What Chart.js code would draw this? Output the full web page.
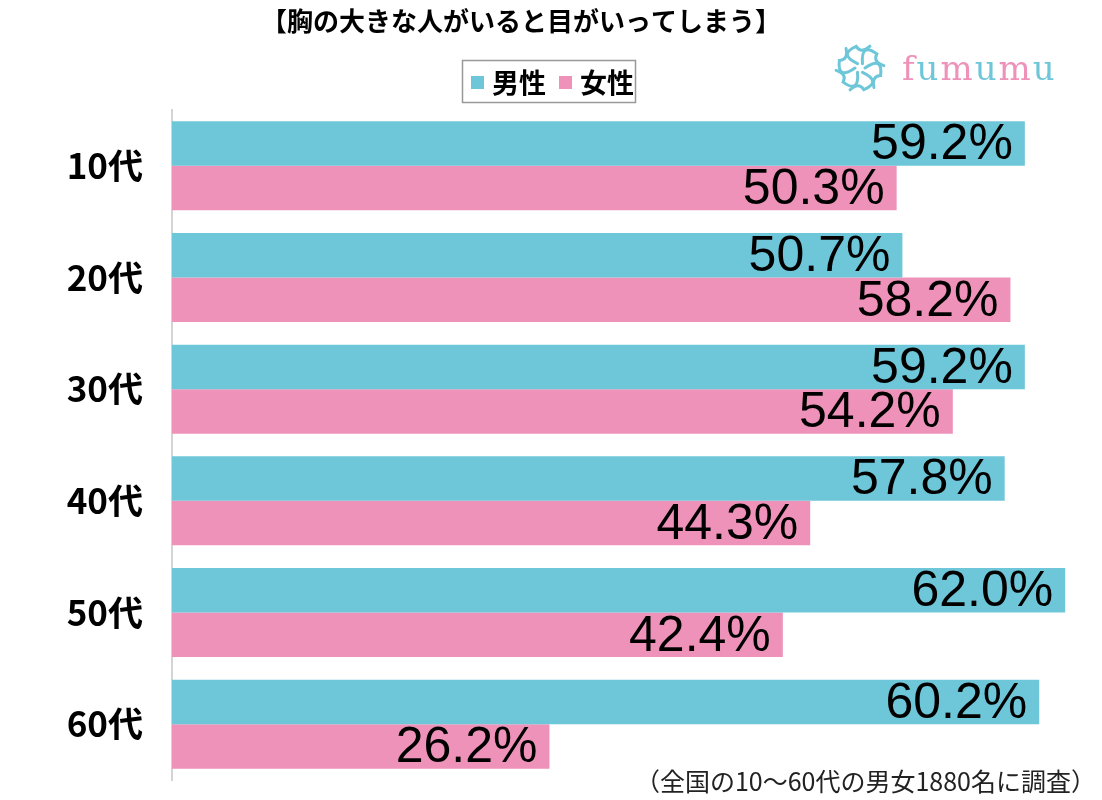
<!DOCTYPE html>
<html>
<head>
<meta charset="utf-8">
<script src="https://cdn.jsdelivr.net/npm/chart.js@4"></script>
<style>
  html, body { margin: 0; padding: 0; background: #fff; }
  #chart { display: block; }
</style>
</head>
<body>
<canvas id="chart" width="1102" height="800"></canvas>
<script>
// data
const ages = ['10代', '20代', '30代', '40代', '50代', '60代'];
const male = [59.2, 50.7, 59.2, 57.8, 62.0, 60.2];
const female = [50.3, 58.2, 54.2, 44.3, 42.4, 26.2];

const title = '【胸の大きな人がいると目がいってしまう】';
const note = '（全国の10〜60代の男女1880名に調査）';

const blue = '#6ec6d9';
const pink = '#ee92b9';
const jp = '"Noto Sans CJK JP", "Noto Sans", sans-serif';

// value labels inside the bar ends
const valueLabels = {
   id: 'valueLabels',
   afterDatasetsDraw(chart) {
      const ctx = chart.ctx;
      ctx.save();
      ctx.font = '50px "Liberation Sans", Arial, sans-serif';
      ctx.fillStyle = '#000';
      ctx.textAlign = 'right';
      ctx.textBaseline = 'middle';
      chart.data.datasets.forEach((ds, i) => {
         chart.getDatasetMeta(i).data.forEach((bar, j) => {
            ctx.fillText(ds.data[j].toFixed(1) + '%', bar.x - 12, bar.y + 2);
         });
      });
      ctx.restore();
   }
};

// title, legend box, note and logo
const decorations = {
   id: 'decorations',
   afterDraw(chart) {
      const ctx = chart.ctx;
      ctx.save();
      ctx.fillStyle = '#000';
      ctx.textBaseline = 'middle';

      ctx.font = 'bold 26px ' + jp;
      ctx.textAlign = 'center';
      ctx.fillText(title, 521, 21);

      // legend
      ctx.strokeStyle = '#999';
      ctx.lineWidth = 1.5;
      ctx.strokeRect(462.5, 60.5, 173, 42);
      ctx.font = 'bold 27px ' + jp;
      ctx.textAlign = 'left';
      let x = 471;
      chart.data.datasets.forEach(ds => {
         ctx.fillStyle = ds.backgroundColor;
         ctx.fillRect(x, 76, 13, 13);
         ctx.fillStyle = '#000';
         ctx.fillText(ds.label, x + 21, 83);
         x += 88;
      });

      // note
      ctx.font = '25px ' + jp;
      ctx.textAlign = 'right';
      ctx.fillStyle = '#222';
      ctx.fillText(note, 1096, 781);

      // logo flower
      const cx = 860, cy = 68;
      ctx.strokeStyle = blue;
      ctx.lineWidth = 3;
      ctx.lineCap = 'round';
      for (let k = 0; k < 6; k++) {
         const a = k * Math.PI / 3;
         ctx.beginPath();
         ctx.moveTo(cx + 5 * Math.cos(a), cy + 5 * Math.sin(a));
         ctx.quadraticCurveTo(
            cx + 26 * Math.cos(a - 0.5), cy + 26 * Math.sin(a - 0.5),
            cx + 22 * Math.cos(a + 0.35), cy + 22 * Math.sin(a + 0.35));
         ctx.quadraticCurveTo(
            cx + 14 * Math.cos(a + 0.6), cy + 14 * Math.sin(a + 0.6),
            cx + 24 * Math.cos(a + 0.95), cy + 24 * Math.sin(a + 0.95));
         ctx.stroke();
      }
      // logo text
      ctx.font = '34px "DejaVu Serif", "Liberation Serif", serif';
      ctx.textAlign = 'left';
      ctx.textBaseline = 'alphabetic';
      let lx = 902;
      'fumumu'.split('').forEach((c, k) => {
         ctx.fillStyle = k % 2 ? blue : pink;
         ctx.fillText(c, lx, 80);
         lx += ctx.measureText(c).width + 2;
      });
      ctx.restore();
   }
};

const chart = new Chart(document.getElementById('chart').getContext('2d'), {
   type: 'bar',
   data: {
      labels: ages,
      datasets: [
         { label: '男性', data: male, backgroundColor: blue },
         { label: '女性', data: female, backgroundColor: pink }
      ]
   },
   options: {
      indexAxis: 'y',
      responsive: false,
      animation: false,
      categoryPercentage: 0.797,
      barPercentage: 1,
      layout: { padding: { top: 110, bottom: 20, right: 8, left: 0 } },
      plugins: {
         legend: { display: false },
         tooltip: { enabled: false }
      },
      scales: {
         x: {
            display: false,
            min: 0,
            max: 64
         },
         y: {
            afterFit: (scale) => {
               scale.width = 172;
               scale.paddingTop = 0;
               scale.paddingBottom = 0;
            },
            grid: { display: false, drawTicks: false },
            border: { display: true, color: '#d4d4d4', width: 2 },
            ticks: {
               padding: 29,
               color: '#000',
               font: { family: jp, size: 35, weight: 'bold' }
            }
         }
      }
   },
   plugins: [valueLabels, decorations]
});
</script>
</body>
</html>
